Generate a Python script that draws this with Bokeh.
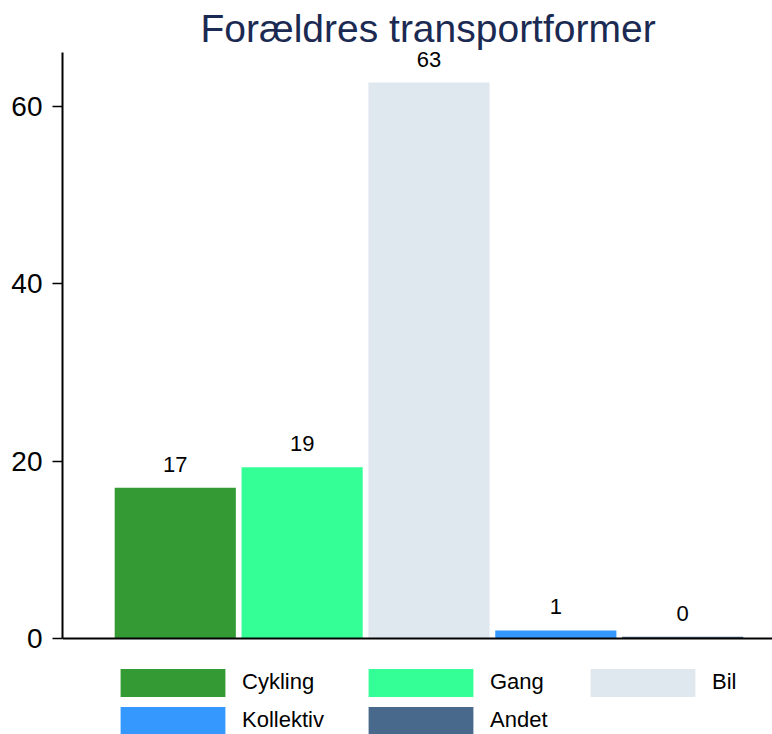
from bokeh.plotting import figure
from bokeh.models import (ColumnDataSource, FixedTicker, Span, Label, Legend,
                          LegendItem)
from bokeh.core.properties import value
from bokeh.embed import file_html
from bokeh.resources import INLINE

# ---- data ----
categories = ["Cykling", "Gang", "Bil", "Kollektiv", "Andet"]
values = [17.0, 19.3, 62.7, 0.9, 0.2]
colors = ["#349a34", "#34fe96", "#e0e8ef", "#3498fe", "#48698b"]
y_ticks = [0, 20, 40, 60]
title_text = "Forældres transportformer"

FONT = "Liberation Sans"

positions = list(range(1, len(categories) + 1))
labels = [f"{v:.0f}" for v in values]

src = ColumnDataSource(dict(x=positions, top=values, color=colors,
                            cat=categories, label=labels))

p = figure(width=772, height=734, output_backend="svg", toolbar_location=None,
           x_range=(0.111, 5.708), y_range=(-10.83, 71.95),
           x_axis_location=None,
           min_border_left=62, min_border_right=0,
           min_border_top=0, min_border_bottom=0)
p.outline_line_color = None
p.grid.visible = False
p.background_fill_color = "white"
p.border_fill_color = "white"

bars = p.vbar(x="x", top="top", bottom=0, width=0.955, fill_color="color",
              line_color=None, source=src)

p.text(x="x", y="top", text="label", source=src, text_align="center",
       text_baseline="bottom", y_offset=-16, text_font=value(FONT),
       text_font_size="22px", text_color="black")

# axes
ax = p.yaxis[0]
ax.ticker = FixedTicker(ticks=y_ticks)
ax.bounds = (0, 66.09)
ax.axis_line_width = 2
ax.axis_line_color = "black"
ax.major_tick_out = 10
ax.major_tick_in = 0
ax.major_tick_line_width = 1.5
ax.minor_tick_line_color = None
ax.major_label_standoff = 10
ax.major_label_text_font = FONT
ax.major_label_text_font_size = "28px"
ax.major_label_text_color = "black"

p.add_layout(Span(location=0, dimension="width", line_color="black",
                  line_width=2))

# title
p.add_layout(Label(x=138, y=706, x_units="screen", y_units="screen",
                   text=title_text, text_font=FONT, text_font_size="39px",
                   text_color="#1b2a52", text_baseline="alphabetic",
                   text_align="left"))

# legend: one vertical legend per column
columns = [[0, 3], [1, 4], [2]]
col_x = [45, 293, 515]
col_y = [-3.5, -3.5, 34.5]
for idxs, lx, ly in zip(columns, col_x, col_y):
    items = [LegendItem(label=categories[i], renderers=[bars], index=i)
             for i in idxs]
    lg = Legend(items=items, location=(lx, ly), orientation="vertical",
                glyph_width=131, glyph_height=35, spacing=3, padding=0,
                margin=0, label_standoff=4, border_line_color=None,
                background_fill_alpha=0, label_text_font=FONT,
                label_text_font_size="22px", label_text_color="black")
    p.add_layout(lg, "center")

open("out.html", "w").write(file_html(p, INLINE))
